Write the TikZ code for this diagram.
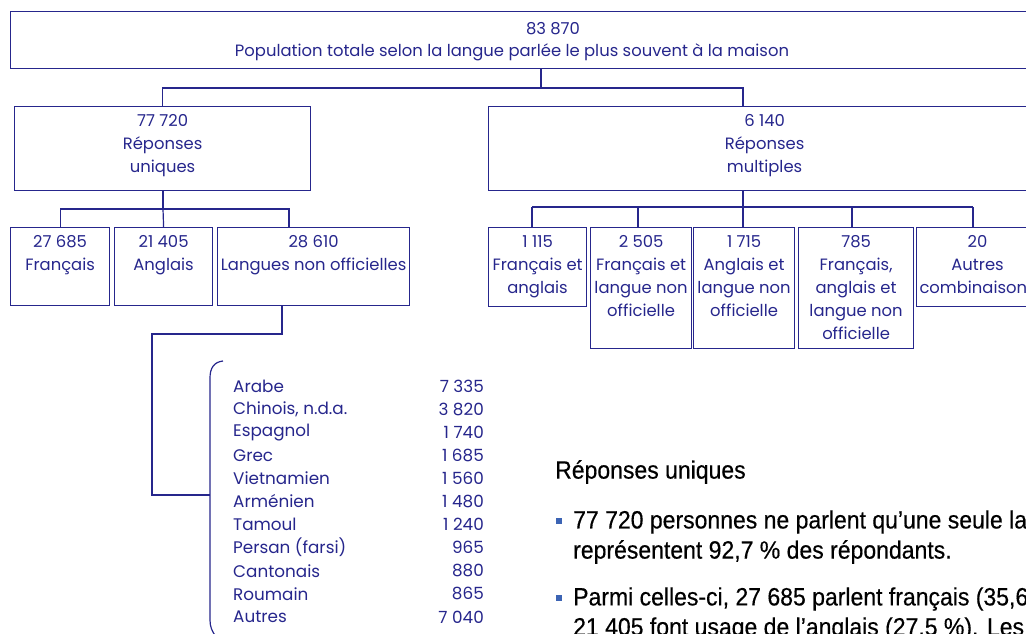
\documentclass[tikz,border=0pt]{standalone}
\usepackage{fontspec}
\setmainfont{Poppins}
\newfontfamily\notefont[FakeStretch=0.92,FakeBold=0.4]{Liberation Sans}
\usetikzlibrary{calc}
\definecolor{navy}{RGB}{38,38,140}
\definecolor{bulletblue}{RGB}{60,100,180}
\tikzset{
	frame/.style = {draw=navy, line width=1.2pt, inner sep=0pt, anchor=north west},
	link/.style = {draw=navy, line width=1.2pt},
	boxtxt/.style = {text=navy, font=\fontsize{16.4}{23}\selectfont, align=center, inner sep=0pt, anchor=north},
	listtxt/.style = {text=navy, font=\fontsize{16.8}{23}\selectfont, inner sep=0pt},
	note/.style = {font=\notefont\fontsize{25}{30}\selectfont, anchor=west, inner sep=0pt},
	bullet/.style = {fill=bulletblue, minimum size=6pt, inner sep=0pt}
}
% box: name, x, y, width, height, text
\newcommand{\statbox}[6]{
	\node [frame, minimum width=#4pt, minimum height=#5pt] (#1) at (#2,#3) {};
	\node [boxtxt] (#1-t) at ([yshift=-8pt]#1.north) {#6};
}

\begin{document}
\begin{tikzpicture}[x=1pt, y=-1pt]
\clip (0,0) rectangle (1026,634);

% top level
\node [frame, minimum width=1040pt, minimum height=57pt] (total) at (10,11) {};
\node [boxtxt, anchor=center] (total-n) at (553,29) {83 870};
\node [boxtxt, anchor=center] (total-l) at (512,52) {Population totale selon la langue parlée le plus souvent à la maison};

\statbox{uniq}{14}{106}{296}{84}{77 720\\Réponses\\uniques}
\statbox{multi}{488}{106}{552}{84}{6 140\\Réponses\\multiples}

\coordinate (split) at (541,88);
\coordinate (mdrop) at (743,0);
\draw [link] (split |- total.south) -- (split);
\draw [link] (uniq.north) |- (split) -| (mdrop |- multi.north);

% single answers
\statbox{fr}{10}{227}{99}{78}{27 685\\Français}
\statbox{an}{114}{227}{98}{78}{21 405\\Anglais}
\statbox{lno}{217}{227}{192}{78}{28 610\\Langues non officielles}

\coordinate (usplit) at (163,209);
\draw [link] (uniq.south -| usplit) -- (usplit);
\draw [link] (fr.north) |- (usplit) -| (289,227);
\draw [link] (usplit) -- (an.north);

% multiple answers
\statbox{fa}{488}{227}{98}{79}{1 115\\Français et\\anglais}
\statbox{fl}{590}{227}{101}{121}{2 505\\Français et\\langue non\\officielle}
\statbox{al}{693}{227}{101}{121}{1 715\\Anglais et\\langue non\\officielle}
\statbox{fal}{798}{227}{115}{121}{785\\Français,\\anglais et\\langue non\\officielle}
\statbox{autre}{916}{227}{122}{79}{20\\Autres\\combinaisons}

\coordinate (msplit) at (743,207);
\draw [link] (mdrop |- multi.south) -- (msplit);
\draw [link] (532,207) -- (973,207);
\foreach \b/\x in {fa/532, fl/638, al/743, fal/852, autre/973}{
	\coordinate (d) at (\x,207);
	\draw [link] (d) -- (d |- \b.north);
}

% non official languages
\coordinate (lnodrop) at (282,0);
\coordinate (elbow) at (152,334);
\coordinate (bracemid) at (210,495);
\draw [link] (lnodrop |- lno.south) |- (elbow) |- (bracemid);
\draw [link] (223,361) .. controls (214,362) and (210,368) .. (210,378) -- (210,620) .. controls (210,627) and (212,631) .. (216,637);

\foreach \lang/\num [count=\r from 0] in {Arabe/7~335, {Chinois, n.d.a.}/3~820, Espagnol/1~740, Grec/1~685, Vietnamien/1~560, Arménien/1~480, Tamoul/1~240, Persan (farsi)/965, Cantonais/880, Roumain/865, Autres/7~040}{
	\node [listtxt, anchor=west] (lang\r) at (233,386+23.1*\r) {\lang};
	\node [listtxt, anchor=east] (num\r) at (484,386+23.1*\r) {\num};
}

% notes
\node [note] (head) at (555,472) {Réponses uniques};
\node [bullet] (b1) at (559,521) {};
\node [note] (l1) at (573,522) {77 720 personnes ne parlent qu’une seule la};
\node [note] (l2) at (573,552) {représentent 92,7 \% des répondants.};
\node [bullet] (b2) at (559,598) {};
\node [note] (l3) at (573,599) {Parmi celles-ci, 27 685 parlent français (35,6};
\node [note] (l4) at (573,629) {21 405 font usage de l’anglais (27,5 \%). Les};
\end{tikzpicture}
\end{document}
